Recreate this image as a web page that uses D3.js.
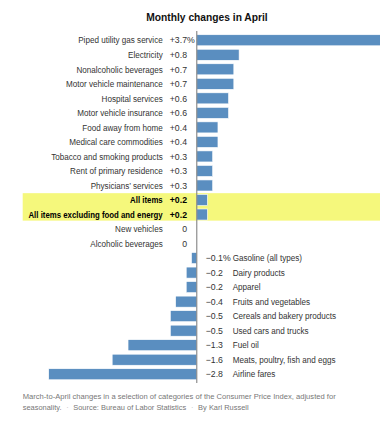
<!DOCTYPE html>
<html><head><meta charset="utf-8">
<script src="https://cdn.jsdelivr.net/npm/d3@7"></script>
<style>
html,body{margin:0;padding:0;background:#fff;}
svg{display:block;}
text{font-family:"Liberation Sans",Arial,sans-serif;}
</style></head>
<body>
<script>
const categories = [
  "Piped utility gas service","Electricity","Nonalcoholic beverages","Motor vehicle maintenance",
  "Hospital services","Motor vehicle insurance","Food away from home","Medical care commodities",
  "Tobacco and smoking products","Rent of primary residence","Physicians’ services",
  "All items","All items excluding food and energy","New vehicles","Alcoholic beverages",
  "Gasoline (all types)","Dairy products","Apparel","Fruits and vegetables",
  "Cereals and bakery products","Used cars and trucks","Fuel oil","Meats, poultry, fish and eggs","Airline fares"
];
const values = [3.7,0.8,0.7,0.7,0.6,0.6,0.4,0.4,0.3,0.3,0.3,0.2,0.2,0,0,-0.1,-0.2,-0.2,-0.4,-0.5,-0.5,-1.3,-1.6,-2.8];
const highlighted = ["All items","All items excluding food and energy"];
const title = "Monthly changes in April";
const note1 = "March-to-April changes in a selection of categories of the Consumer Price Index, adjusted for";
const note2 = ["seasonality.", "Source: Bureau of Labor Statistics", "By Karl Russell"];

const data = categories.map((c,i)=>({name:c, value:values[i], hl: highlighted.includes(c)}));
const W=380,H=422;
const svg=d3.select("body").append("svg").attr("width",W).attr("height",H);

const x=d3.scaleLinear().domain([-2.8,3.7]).range([48.7,392.5]);
const y=d3.scaleBand().domain(categories).range([33,381.5]).paddingInner(0.24).paddingOuter(0.12);
const x0=x(0);
const cy=d=>y(d.name)+y.bandwidth()/2+3.2;
const cond=(px,py,sx)=>`translate(${px},${py}) scale(${sx},1)`;

svg.append("text").attr("transform",cond(207,20.5,0.95)).attr("text-anchor","middle")
  .attr("font-size",10.8).attr("font-weight","bold").attr("fill","#111").text(title);

// highlight band
const hlRows=data.filter(d=>d.hl);
const hy0=y(hlRows[0].name)-1.3, hy1=y(hlRows[hlRows.length-1].name)+y.bandwidth()+0.6;
svg.append("rect").attr("x",22.7).attr("y",hy0).attr("width",W-22.7).attr("height",hy1-hy0).attr("fill","#f5f87c");

svg.append("g").selectAll("rect").data(data.filter(d=>d.value!==0)).join("rect")
  .attr("x",d=>Math.min(x(d.value),x0)).attr("y",d=>y(d.name))
  .attr("width",d=>Math.abs(x(d.value)-x0)).attr("height",y.bandwidth())
  .attr("fill","#5a8ec0").attr("stroke","#fff").attr("stroke-width",0.6);

svg.append("line").attr("x1",x0).attr("x2",x0).attr("y1",31).attr("y2",383)
  .attr("stroke","#777").attr("stroke-width",1);

const fmt=v=> v===0?"0":(v>0?"+":"−")+Math.abs(v).toFixed(1);
const SX=0.9;
const pos=data.filter(d=>d.value>=0), neg=data.filter(d=>d.value<0);
const g=svg.append("g").attr("font-size",9);
g.selectAll("text.pn").data(pos).join("text").attr("class","pn")
  .attr("transform",d=>cond(162.7,cy(d),d.hl?0.87:SX)).attr("text-anchor","end")
  .attr("fill",d=>d.hl?"#000":"#333").attr("font-weight",d=>d.hl?"bold":"normal").text(d=>d.name);
g.selectAll("text.pv").data(pos).join("text").attr("class","pv")
  .attr("transform",d=>cond(187,cy(d),0.97)).attr("text-anchor","end")
  .attr("fill",d=>d.hl?"#000":"#333").attr("font-weight",d=>d.hl?"bold":"normal").text(d=>fmt(d.value));
g.append("text").attr("transform",cond(187,cy(pos[0]),0.97))
  .attr("fill","#333").text("%");
g.selectAll("text.nv").data(neg).join("text").attr("class","nv")
  .attr("transform",d=>cond(205.7,cy(d),0.97))
  .attr("fill","#333").text((d,i)=>fmt(d.value)+(i===0?"%":""));
g.selectAll("text.nn").data(neg).join("text").attr("class","nn")
  .attr("transform",d=>cond(232.7,cy(d),SX))
  .attr("fill","#333").text(d=>d.name);

const f=svg.append("g").attr("font-size",8.1).attr("fill","#777");
f.append("text").attr("x",22.7).attr("y",399).attr("textLength",313).attr("lengthAdjust","spacingAndGlyphs").text(note1);
// second line: separate pieces, then condensed to the reference width
const l2=f.append("g");
let cx=0;
note2.forEach((s,i)=>{
  if(i>0){
    const dot=l2.append("text").attr("x",cx+5).attr("y",0).attr("fill","#bbb").text("·");
    cx+=5+dot.node().getComputedTextLength()+5;
  }
  const t=l2.append("text").attr("x",cx).attr("y",0).text(s);
  cx+=t.node().getComputedTextLength();
});
l2.attr("transform",cond(22.7,410,226/cx));
</script>
</body></html>
